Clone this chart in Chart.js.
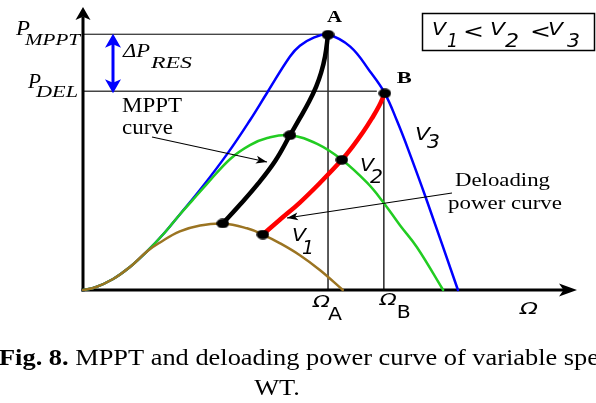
<!DOCTYPE html>
<html>
<head>
<meta charset="utf-8">
<script src="https://cdn.jsdelivr.net/npm/chart.js@4.4.1/dist/chart.umd.min.js"></script>
<style>
  html, body { margin: 0; padding: 0; background: #fff; overflow: hidden; }
  canvas { display: block; }
</style>
</head>
<body>
<canvas id="c" width="596" height="403"></canvas>
<script>
// Turbine power P against rotor speed Ω (arbitrary units, 0–100 on both axes)
const curveV1 = [[0,0],[2.4,0.9],[6.1,3.9],[9.5,8.1],[13.0,13.7],[15.6,16.8],[19.6,20.7],[23.7,22.8],[28.3,23.5],[33.2,21.8],[36.4,19.6],[39.9,16.5],[43.9,12.3],[48.0,7.0],[52.6,0]];
const curveV2 = [[0,0],[2.4,0.9],[6.1,3.9],[9.5,8.1],[13.0,13.7],[16.6,20.4],[19.6,26.7],[22.1,31.6],[25.1,37.5],[29.8,46.3],[33.8,51.2],[37.3,53.7],[41.9,54.7],[47.4,51.6],[52.4,46.0],[57.5,37.9],[60.7,31.2],[64.2,22.8],[67.6,15.1],[72.9,0]];
const curveV3 = [[0,0],[2.4,0.9],[6.1,3.9],[9.5,8.1],[13.0,13.7],[16.6,20.4],[19.6,26.7],[23.7,35.4],[29.2,48.1],[33.8,60.0],[37.3,69.8],[41.9,82.5],[43.9,86.3],[46.6,89.1],[49.6,90.2],[54.1,86.0],[58.1,77.2],[61.1,69.5],[63.6,59.6],[65.8,49.8],[69.4,32.6],[75.9,0]];
// Maximum power points of each curve, and the deloaded operating line
const mpptCurve = [[28.3,23.5],[31.8,30.2],[35.4,37.5],[38.9,45.6],[41.9,54.7],[43.9,60.7],[45.8,66.7],[47.2,71.9],[48.2,76.8],[49.0,82.5],[49.6,90.2]];
const deloadCurve = [[36.4,19.6],[39.9,24.9],[43.9,30.9],[48.0,37.9],[52.4,46.0],[54.5,50.5],[56.7,55.8],[58.5,60.7],[59.9,64.9],[61.1,69.5]];
const pointA = [49.6, 90.2];   // MPPT operation at V3
const pointB = [61.1, 69.5];   // deloaded operation at V3
const operatingPoints = [pointA, pointB, [41.9,54.7], [28.3,23.5], [52.4,46.0], [36.4,19.6]];

const SERIF = '"Liberation Serif", "Times New Roman", serif';
const SANS = '"DejaVu Sans", sans-serif';

// Oval dot used for the operating points
const dot = document.createElement('canvas');
dot.width = 13; dot.height = 10;
(function () {
  const d = dot.getContext('2d');
  d.fillStyle = '#000';
  d.beginPath();
  d.ellipse(6.5, 5, 6.3, 4.8, 0, 0, Math.PI * 2);
  d.fill();
})();

function fitText(ctx, str, x, y, font, width) {
  ctx.font = font;
  const w = ctx.measureText(str).width;
  const sx = width ? width / w : 1;
  ctx.save();
  ctx.translate(x, y);
  ctx.scale(sx, 1);
  ctx.textAlign = 'left';
  ctx.textBaseline = 'alphabetic';
  ctx.fillText(str, 0, 0);
  ctx.restore();
}

function arrowHead(ctx, x1, y1, x2, y2, len, half) {
  const a = Math.atan2(y2 - y1, x2 - x1);
  const c = Math.cos(a), s = Math.sin(a);
  ctx.beginPath();
  ctx.moveTo(x2, y2);
  ctx.lineTo(x2 - len * c + half * s, y2 - len * s - half * c);
  ctx.lineTo(x2 - len * 0.75 * c, y2 - len * 0.75 * s);
  ctx.lineTo(x2 - len * c - half * s, y2 - len * s + half * c);
  ctx.closePath();
  ctx.fill();
}

function pointer(ctx, x1, y1, x2, y2) {
  ctx.strokeStyle = '#000';
  ctx.fillStyle = '#000';
  ctx.lineWidth = 1.1;
  ctx.beginPath();
  ctx.moveTo(x1, y1);
  ctx.lineTo(x2, y2);
  ctx.stroke();
  arrowHead(ctx, x1, y1, x2, y2, 11, 4);
}

const diagram = {
  id: 'diagram',
  beforeDatasetsDraw(chart) {
    const { ctx, chartArea: ca, scales } = chart;
    const ax = scales.x.getPixelForValue(pointA[0]), ay = scales.y.getPixelForValue(pointA[1]);
    const bx = scales.x.getPixelForValue(pointB[0]), by = scales.y.getPixelForValue(pointB[1]);
    ctx.save();
    ctx.lineCap = 'butt';
    // guide lines for P_MPPT / P_DEL and Ω_A / Ω_B
    ctx.strokeStyle = '#000';
    ctx.lineWidth = 1;
    ctx.beginPath(); ctx.moveTo(ca.left, ay - 0.5); ctx.lineTo(ax, ay - 0.5); ctx.stroke();
    ctx.strokeStyle = '#444';
    ctx.lineWidth = 1.6;
    ctx.beginPath(); ctx.moveTo(ca.left, by - 2); ctx.lineTo(bx - 8, by - 2); ctx.stroke();
    ctx.strokeStyle = '#333';
    ctx.beginPath(); ctx.moveTo(ax, ay); ctx.lineTo(ax, ca.bottom); ctx.stroke();
    ctx.beginPath(); ctx.moveTo(bx - 1, by); ctx.lineTo(bx - 1, ca.bottom); ctx.stroke();

    // axes with arrow heads
    ctx.strokeStyle = '#000';
    ctx.fillStyle = '#000';
    ctx.lineWidth = 3;
    ctx.beginPath(); ctx.moveTo(ca.left, ca.bottom + 1.5); ctx.lineTo(ca.left, ca.top + 10); ctx.stroke();
    ctx.beginPath(); ctx.moveTo(ca.left - 1.5, ca.bottom); ctx.lineTo(ca.right - 10, ca.bottom); ctx.stroke();
    arrowHead(ctx, ca.left, ca.bottom, ca.left, ca.top, 13, 7.5);
    arrowHead(ctx, ca.left, ca.bottom, ca.right, ca.bottom, 18, 6.5);

    // ΔP_RES double arrow between the two power levels
    ctx.strokeStyle = '#0000ff';
    ctx.fillStyle = '#0000ff';
    ctx.lineWidth = 3;
    const dx = 113;
    ctx.beginPath(); ctx.moveTo(dx, ay + 8); ctx.lineTo(dx, by - 8); ctx.stroke();
    arrowHead(ctx, dx, by, dx, ay - 1, 14, 8);
    arrowHead(ctx, dx, ay, dx, by, 14, 8);
    ctx.restore();
  },
  afterDraw(chart) {
    const { ctx, scales } = chart;
    const ax = scales.x.getPixelForValue(pointA[0]), ay = scales.y.getPixelForValue(pointA[1]);
    const bx = scales.x.getPixelForValue(pointB[0]), by = scales.y.getPixelForValue(pointB[1]);
    ctx.save();
    ctx.fillStyle = '#000';

    // annotation pointers
    pointer(ctx, 152, 137, 267, 162);
    pointer(ctx, 452, 193, 287, 218);

    // power level labels
    fitText(ctx, 'P', 16, 35, 'italic 20px ' + SERIF, 14);
    fitText(ctx, 'MPPT', 25, 45, 'italic 17px ' + SERIF, 55);
    fitText(ctx, 'P', 28, 88, 'italic 20px ' + SERIF, 13);
    fitText(ctx, 'DEL', 36, 97, 'italic 17px ' + SERIF, 42);
    fitText(ctx, 'ΔP', 123, 57, 'italic 19px ' + SERIF, 27);
    fitText(ctx, 'RES', 151, 68, 'italic 17px ' + SERIF, 41);

    // curve names
    fitText(ctx, 'MPPT', 122, 112, '20px ' + SERIF, 60);
    fitText(ctx, 'curve', 122, 134, '20px ' + SERIF, 51);
    fitText(ctx, 'Deloading', 455, 186, '19px ' + SERIF, 95);
    fitText(ctx, 'power curve', 448, 209, '19px ' + SERIF, 114);

    // operating point names
    fitText(ctx, 'A', ax - 1, ay - 13, 'bold 16px ' + SERIF, 15);
    fitText(ctx, 'B', bx + 12, by - 10, 'bold 16px ' + SERIF, 15);

    // wind speed labels
    const vFont = 'italic 17px ' + SANS, nFont = 'italic 19px ' + SANS;
    fitText(ctx, 'V', 415, 140, vFont, 15); fitText(ctx, '3', 427, 148, nFont, 13);
    fitText(ctx, 'V', 360, 171, vFont, 14); fitText(ctx, '2', 370, 183, nFont, 13);
    fitText(ctx, 'V', 292, 241, vFont, 14); fitText(ctx, '1', 302, 254, nFont, 12);

    // legend box: V1 < V2 < V3
    ctx.strokeStyle = '#000';
    ctx.lineWidth = 1.5;
    ctx.strokeRect(422.5, 13.5, 172, 37);
    fitText(ctx, 'V', 432, 35, vFont, 14); fitText(ctx, '1', 447, 47, 'italic 20px ' + SANS, 11);
    fitText(ctx, '<', 463, 38, '20px ' + SANS, 21);
    fitText(ctx, 'V', 490, 35, vFont, 15); fitText(ctx, '2', 505, 47, 'italic 20px ' + SANS, 14);
    fitText(ctx, '<', 530, 38, '20px ' + SANS, 21);
    fitText(ctx, 'V', 548, 35, vFont, 15); fitText(ctx, '3', 567, 47, 'italic 20px ' + SANS, 13);

    // speed axis labels
    fitText(ctx, 'Ω', ax - 15, 307, 'italic 15px ' + SANS, 17);
    fitText(ctx, 'A', ax, 320, '18px ' + SANS, 14);
    fitText(ctx, 'Ω', bx - 5, 305, 'italic 15px ' + SANS, 17);
    fitText(ctx, 'B', bx + 12, 318, '18px ' + SANS, 14);
    fitText(ctx, 'Ω', 520, 314, 'italic 15px ' + SANS, 18);

    // caption
    const capBold = 'Fig. 8.', capRest = ' MPPT and deloading power curve of variable speed';
    const capFont = '24px ' + SERIF, capBoldFont = 'bold 24px ' + SERIF;
    ctx.font = capBoldFont;
    const wb = ctx.measureText(capBold).width;
    ctx.font = capFont;
    const wr = ctx.measureText(' MPPT and deloading power curve of variable spe').width;
    const sx = 600 / (wb + wr);
    ctx.save();
    ctx.translate(-1, 365);
    ctx.scale(sx, 1);
    ctx.font = capBoldFont; ctx.fillText(capBold, 0, 0);
    ctx.font = capFont; ctx.fillText(capRest, wb, 0);
    ctx.restore();
    ctx.font = capFont;
    const ww = ctx.measureText('WT.').width * sx;
    fitText(ctx, 'WT.', 277 - ww / 2, 395, capFont, ww);
    ctx.restore();
  }
};

const lineStyle = (data, color, width) => ({
  data, borderColor: color, borderWidth: width, pointRadius: 0, fill: false,
  tension: 0.4, clip: false, borderCapStyle: 'round', borderJoinStyle: 'round'
});

new Chart(document.getElementById('c'), {
  type: 'line',
  data: {
    datasets: [
      { data: operatingPoints, showLine: false, pointStyle: dot, pointRadius: 6, clip: false },
      lineStyle(mpptCurve, '#000000', 4.5),
      lineStyle(deloadCurve, '#ff0000', 4.5),
      lineStyle(curveV1, '#9b7422', 2.5),
      lineStyle(curveV2, '#22cc22', 2.5),
      lineStyle(curveV3, '#0000ff', 2.5)
    ]
  },
  options: {
    responsive: false,
    animation: false,
    events: [],
    layout: { padding: { left: 83, right: 19, top: 5, bottom: 113 } },
    scales: {
      x: { type: 'linear', min: 0, max: 100, display: false },
      y: { type: 'linear', min: 0, max: 100, display: false }
    },
    plugins: { legend: { display: false }, tooltip: { enabled: false } }
  },
  plugins: [diagram]
});
</script>
</body>
</html>
